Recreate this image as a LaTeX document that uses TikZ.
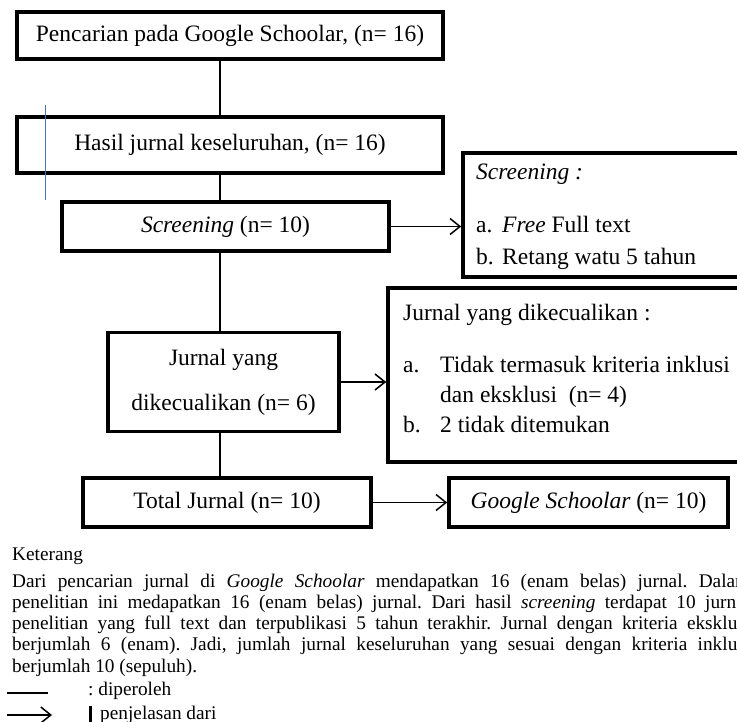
\documentclass[tikz,border=0pt]{standalone}
\usepackage{fontspec}
\setmainfont{Liberation Serif}
\usetikzlibrary{arrows.meta, calc, positioning}
\definecolor{garisbiru}{RGB}{68,114,196}
\frenchspacing

\begin{document}
\begin{tikzpicture}[x=1pt, y=-1pt, >={Straight Barb[length=10pt, width=16pt]}]
	\tikzstyle{kotak} = [draw, line width=3.6pt, rectangle, inner sep=0pt, align=center, font=\fontsize{23.5}{28}\selectfont]
	\tikzstyle{isi} = [anchor=base west, inner sep=0pt, font=\fontsize{23.5}{28}\selectfont]
	\tikzstyle{ket} = [anchor=base west, inner sep=0pt, font=\fontsize{19.3}{21}\selectfont]
	\tikzstyle{garis} = [line width=1.5pt]

	\useasboundingbox (0,0) rectangle (737,722);

	% alur utama
	\node[kotak, minimum width=426pt, minimum height=47pt] (cari) at (230,35.5) {Pencarian pada Google Schoolar, (n= 16)};
	\node[kotak, minimum width=426pt, minimum height=56pt] (hasil) at (230,145) {Hasil jurnal keseluruhan, (n= 16)};
	\node[kotak, minimum width=327pt, minimum height=49pt] (screen) at (225.5,226.5) {\emph{Screening} (n= 10)};
	\node[kotak, minimum width=231pt, minimum height=99pt, font=\fontsize{23.5}{45}\selectfont] (kecuali) at (223.5,382) {Jurnal yang\\dikecualikan (n= 6)};
	\node[kotak, minimum width=288pt, minimum height=49pt] (total) at (227,502.5) {Total Jurnal (n= 10)};
	\node[kotak, minimum width=279pt, minimum height=49pt] (google) at (588.5,502.5) {\emph{Google Schoolar} (n= 10)};

	% kotak penjelasan
	\node[kotak, minimum width=317pt, minimum height=124pt] (krit) at (621.5,215) {};
	\node[isi] (kritjudul) at (476,180) {\emph{Screening :}};
	\node[isi] (krita) at (476,233) {\makebox[26pt][l]{a.}\emph{Free} Full text};
	\node[isi] (kritb) at (476,265) {\makebox[26pt][l]{b.}Retang watu 5 tahun};

	\node[kotak, minimum width=392pt, minimum height=174pt] (alasan) at (584,375) {};
	\node[isi] (alasanjudul) at (403,320) {Jurnal yang dikecualikan :};
	\node[isi] (alasana) at (403,372) {\makebox[37pt][l]{a.}Tidak termasuk kriteria inklusi};
	\node[isi] (alasanlanjut) at (440,402) {dan eksklusi\ \ (n= 4)};
	\node[isi] (alasanb) at (403,432) {\makebox[37pt][l]{b.}2 tidak ditemukan};

	% garis
	\coordinate (batang) at (220,0);
	\draw[garis] (cari.south -| batang) -- (hasil.north -| batang);
	\draw[garis] (hasil.south -| batang) -- (screen.north -| batang);
	\draw[garis] (screen.south -| batang) -- (kecuali.north -| batang);
	\draw[garis] (kecuali.south -| batang) -- (total.north -| batang);
	\draw[garis, ->] (screen.east) -- (screen.east -| krit.west);
	\draw[garis, ->] (kecuali.east) -- (kecuali.east -| alasan.west);
	\draw[garis, ->] (total.east) -- (google.west);

	\draw[garisbiru, line width=1pt] (45,105) -- (45,200);

	% keterangan
	\node[ket] (judulket) at (12,560) {Keterang};
	\node[ket] (ket1) at (12,587) {\makebox[738pt][s]{Dari pencarian jurnal di \emph{Google Schoolar} mendapatkan 16 (enam belas) jurnal. Dalam}};
	\node[ket] (ket2) at (12,608.3) {\makebox[738pt][s]{penelitian ini medapatkan 16 (enam belas) jurnal. Dari hasil \emph{screening} terdapat 10 jurnal}};
	\node[ket] (ket3) at (12,629.5) {\makebox[738pt][s]{penelitian yang full text dan terpublikasi 5 tahun terakhir. Jurnal dengan kriteria eksklusi}};
	\node[ket] (ket4) at (12,650.8) {\makebox[738pt][s]{berjumlah 6 (enam). Jadi, jumlah jurnal keseluruhan yang sesuai dengan kriteria inklusi}};
	\node[ket] (ket5) at (12,672) {berjumlah 10 (sepuluh).};

	\coordinate (garisa) at (7,693);
	\coordinate (garisb) at (48,693);
	\draw[garis] (garisa) -- (garisb);
	\node[ket] (diperoleh) at (88,695) {: diperoleh};
	\coordinate (panaha) at (7,715);
	\coordinate (panahb) at (52,715);
	\draw[garis, ->] (panaha) -- (panahb);
	\node[ket] (penjelasan) at (89,719) {\rule[-4pt]{3pt}{17pt}\hspace{8pt}penjelasan dari};
\end{tikzpicture}
\end{document}
